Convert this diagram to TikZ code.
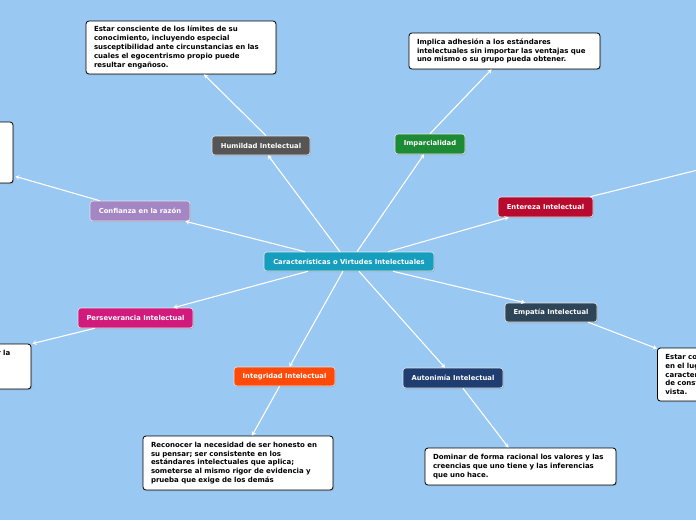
\documentclass[tikz,border=0pt]{standalone}
\usepackage{fontspec}
\setmainfont{DejaVu Sans}
\usetikzlibrary{shadows,arrows.meta}
\definecolor{bg}{RGB}{153,200,243}
\definecolor{cteal}{RGB}{21,158,190}
\definecolor{cgray}{RGB}{85,85,85}
\definecolor{cgreen}{RGB}{29,138,54}
\definecolor{cpurple}{RGB}{164,134,196}
\definecolor{ccrimson}{RGB}{184,10,46}
\definecolor{cmagenta}{RGB}{210,26,124}
\definecolor{cslate}{RGB}{46,69,88}
\definecolor{corange}{RGB}{255,74,10}
\definecolor{cnavy}{RGB}{31,61,112}
\tikzset{
  topic/.style={draw=white!80!gray, line width=0.6pt, rounded corners=3pt, text=white,
    font=\fontsize{6.8}{8.6}\selectfont\bfseries, inner sep=0pt,
    drop shadow={shadow xshift=0.8pt, shadow yshift=-1pt, opacity=0.35}},
  note/.style={draw=black, fill=white, line width=0.8pt, rounded corners=3pt, text=black,
    font=\fontsize{7}{8.8}\selectfont\bfseries, align=left, inner xsep=8pt, inner ysep=0pt,
    drop shadow={shadow xshift=1pt, shadow yshift=-1pt, opacity=0.35}},
  link/.style={draw=white, line width=1.1pt, -{Stealth[length=4pt,width=4.5pt]}}
}
\begin{document}
\begin{tikzpicture}[x=1pt,y=-1pt]
\useasboundingbox (0,0) rectangle (696,520);
\clip (0,0) rectangle (696,520);
\fill[bg] (0,0) rectangle (696,520);

% topics
\node[topic, fill=cteal, minimum width=170pt, minimum height=19pt] (c) at (349,261.5) {Características o Virtudes Intelectuales};
\node[topic, fill=cgray, minimum width=98pt, minimum height=19pt] (hum) at (261,145.5) {Humildad Intelectual};
\node[topic, fill=cgreen, minimum width=70pt, minimum height=20pt] (imp) at (430,144) {Imparcialidad};
\node[topic, fill=cpurple, minimum width=100pt, minimum height=20pt] (conf) at (140,211) {Confianza en la razón};
\node[topic, fill=ccrimson, minimum width=95pt, minimum height=20pt] (ent) at (545.5,207) {Entereza Intelectual};
\node[topic, fill=cmagenta, minimum width=115pt, minimum height=20pt] (pers) at (135.5,318) {Perseverancia Intelectual};
\node[topic, fill=cslate, minimum width=92pt, minimum height=19pt] (emp) at (551,312.5) {Empatía Intelectual};
\node[topic, fill=corange, minimum width=101pt, minimum height=19pt] (int) at (284.5,376.5) {Integridad Intelectual};
\node[topic, fill=cnavy, minimum width=100pt, minimum height=20pt] (aut) at (453,378) {Autonimía Intelectual};

% notes
\node[note, text width=174pt, minimum height=53pt] (htext) at (181,47.5)
  {Estar consciente de los límites de su\\conocimiento, incluyendo especial\\susceptibilidad ante circunstancias en las\\cuales el egocentrismo propio puede\\resultar engañoso.};
\node[note, text width=175pt, minimum height=36pt] (itext) at (504.5,51)
  {Implica adhesión a los estándares\\intelectuales sin importar las ventajas que\\uno mismo o su grupo pueda obtener.};
\node[note, text width=174pt, minimum height=54pt] (intext) at (238,463)
  {Reconocer la necesidad de ser honesto en\\su pensar; ser consistente en los\\estándares intelectuales que aplica;\\someterse al mismo rigor de evidencia y\\prueba que exige de los demás};
\node[note, text width=175pt, minimum height=37pt] (atext) at (520.5,466.5)
  {Dominar de forma racional los valores y las\\creencias que uno tiene y las inferencias\\que uno hace.};
\node[note, minimum width=193pt, minimum height=61pt, inner xsep=0pt] (ctext) at (-83.5,152.5) {};
\node[note, minimum width=190pt, minimum height=45pt, inner xsep=0pt] (ptext) at (-64,366.5) {};
\node[anchor=east, inner sep=0pt, font=\fontsize{7}{8.8}\selectfont\bfseries] (plabel) at (10.5,353) {r la};
\node[note, anchor=west, text width=175pt, minimum height=53pt] (etext) at (657,374.5)
  {Estar co\\en el lug\\caracter\\de const\\vista.};
\coordinate (entend) at (730,162);

% links from centre
\draw[link] ([xshift=-9pt]c.north) -- ([xshift=7pt]hum.south);
\draw[link] ([xshift=8pt]c.north) -- ([xshift=-6pt]imp.south);
\draw[link] ([xshift=-44pt]c.north) -- ([xshift=-5pt]conf.south east);
\draw[link] ([xshift=39pt]c.north) -- ([xshift=11pt]ent.south west);
\draw[link] ([xshift=-41pt]c.south) -- ([xshift=38pt]pers.north);
\draw[link] ([xshift=44pt]c.south) -- ([xshift=-26pt]emp.north);
\draw[link] ([xshift=-6pt]c.south) -- ([xshift=5pt]int.north);
\draw[link] ([xshift=10pt]c.south) -- ([xshift=-8pt]aut.north);

% links to notes
\draw[link] ([xshift=5pt]hum.north) -- ([xshift=23pt]htext.south);
\draw[link] (imp.north) -- ([xshift=-13pt]itext.south);
\draw[link] ([xshift=10pt]conf.north west) -- ([xshift=2pt,yshift=7pt]ctext.south east);
\draw[draw=white, line width=1.1pt] ([xshift=-3pt]ent.north east) -- (entend);
\draw[link] ([xshift=17pt]pers.south west) -- ([xshift=1pt]ptext.north east);
\draw[link] ([xshift=-9pt]emp.south east) -- ([yshift=-1pt]etext.north west);
\draw[link] ([xshift=-5pt]int.south) -- ([xshift=14pt]intext.north);
\draw[link] ([xshift=10pt]aut.south) -- ([xshift=-12pt]atext.north);
\end{tikzpicture}
\end{document}
